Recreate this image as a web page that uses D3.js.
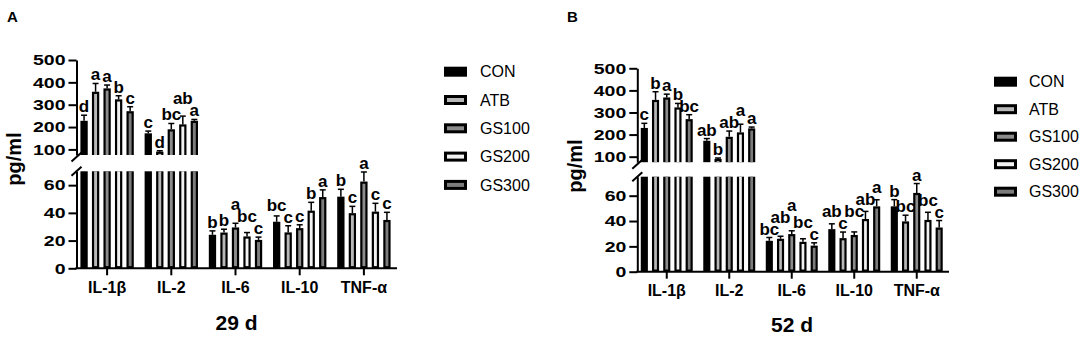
<!DOCTYPE html>
<html><head><meta charset="utf-8">
<script src="https://cdn.jsdelivr.net/npm/d3@7"></script>
<style>body{margin:0;background:#fff} svg{display:block}</style>
</head><body><svg id="c" width="1084" height="337"></svg>
<script>
// ---------- data ----------
const cytokines = ["IL-1β", "IL-2", "IL-6", "IL-10", "TNF-α"];
const groups = ["CON", "ATB", "GS100", "GS200", "GS300"];
const groupFills = ["#000000", "#b8b8b8", "#8c8c8c", "#f2f2f2", "#7c7c7c"];
const upperTicks = [100, 200, 300, 400, 500];
const lowerTicks = [0, 20, 40, 60];

// rows = groups (CON, ATB, GS100, GS200, GS300), columns = cytokines
const mean29 = [
  [228, 172, 24.2, 33.6, 51.7],
  [358, 90, 25.8, 25.9, 39.8],
  [373, 190, 29.5, 29.0, 62.6],
  [324, 212, 23.0, 41.6, 40.9],
  [271, 228, 20.5, 51.4, 34.9]
];
const err29 = [
  [25, 10, 2.8, 4.2, 5.3],
  [37, 4, 2.4, 4.8, 4.9],
  [15, 26, 3.0, 2.4, 6.9],
  [16, 37, 2.8, 6.0, 6.0],
  [20, 6, 2.0, 5.2, 5.5]
];
const letters29 = [
  ["d", "c", "b", "bc", "b"],
  ["a", "d", "b", "c", "c"],
  ["a", "bc", "a", "c", "a"],
  ["b", "ab", "bc", "b", "c"],
  ["c", "a", "c", "a", "c"]
];
const mean52 = [
  [230, 172, 24.4, 33.6, 51.6],
  [357, 90, 26.0, 26.5, 39.7],
  [368, 190, 29.7, 29.0, 62.2],
  [323, 210, 23.6, 41.6, 40.9],
  [270, 228, 20.6, 51.6, 34.9]
];
const err52 = [
  [21, 10, 2.6, 4.2, 5.3],
  [37, 4, 2.0, 4.8, 4.9],
  [15, 26, 2.6, 2.4, 7.4],
  [18, 37, 2.4, 6.0, 6.0],
  [20, 6, 2.2, 5.2, 5.5]
];
const letters52 = [
  ["c", "ab", "bc", "ab", "b"],
  ["b", "b", "ab", "c", "bc"],
  ["a", "ab", "a", "bc", "a"],
  ["b", "a", "bc", "ab", "bc"],
  ["bc", "a", "c", "a", "c"]
];

// ---------- drawing ----------
const FONT = "'Liberation Sans', Arial, Helvetica, sans-serif";
const svg = d3.select("#c");

function panel(cfg) {
  const g = svg.append("g");
  const x0 = d3.scaleBand().domain(cytokines).range(cfg.xRange).paddingInner(0).paddingOuter(0);
  const x1 = d3.scaleBand().domain(groups).range([0, x0.bandwidth()]).paddingInner(0.365).paddingOuter(0.47);
  const yU = d3.scaleLinear().domain(cfg.upperDomain).range(cfg.upperRange);
  const yL = d3.scaleLinear().domain(cfg.lowerDomain).range(cfg.lowerRange);
  const upMin = cfg.upperDomain[0], lowMax = cfg.lowerDomain[1];
  const b = 2.2;
  const w = x1.bandwidth();

  cytokines.forEach((cy, ci) => {
    const labels = [];
    groups.forEach((grp, gi) => {
      const v = cfg.mean[gi][ci], e = cfg.err[gi][ci];
      const bx = x0(cy) + x1(grp);
      const segs = [];
      if (v > upMin) segs.push({ top: yU(v), bot: yU(upMin), closedTop: true, closedBot: false });
      segs.push({ top: yL(Math.min(v, lowMax)), bot: yL(0), closedTop: v <= lowMax, closedBot: true });
      segs.forEach(s => {
        g.append("rect").attr("x", bx).attr("y", s.top).attr("width", w).attr("height", s.bot - s.top).attr("fill", "#000");
        if (gi > 0) {
          const it = s.top + (s.closedTop ? b : 0);
          const ib = s.bot - (s.closedBot ? b : 0);
          g.append("rect").attr("x", bx + b).attr("y", it).attr("width", w - 2 * b).attr("height", Math.max(0, ib - it)).attr("fill", groupFills[gi]);
        }
      });
      const ys = v > upMin ? yU : yL;
      const cx = bx + w / 2;
      const y1 = ys(v), y2 = ys(v + e);
      g.append("line").attr("x1", cx).attr("x2", cx).attr("y1", y1).attr("y2", y2).attr("stroke", "#000").attr("stroke-width", 1.5);
      g.append("line").attr("x1", cx - 3).attr("x2", cx + 3).attr("y1", y2).attr("y2", y2).attr("stroke", "#000").attr("stroke-width", 1.5);
      const t = g.append("text").attr("x", cx).attr("y", y2 - 3).attr("text-anchor", "middle")
        .attr("font-family", FONT).attr("font-weight", "bold").attr("font-size", 17)
        .text(cfg.letters[gi][ci]);
      labels.push({ t, cx, y: y2 - 3, w: t.node().getComputedTextLength() });
    });
    // place lowest labels first; taller labels are lifted above any label they collide with
    labels.sort((a, c) => c.y - a.y);
    const placed = [];
    labels.forEach(L => {
      let moved = true;
      while (moved) {
        moved = false;
        for (const P of placed) {
          const hOver = Math.min(L.cx + L.w / 2, P.cx + P.w / 2) - Math.max(L.cx - L.w / 2, P.cx - P.w / 2);
          const vOver = Math.min(L.y, P.y) - Math.max(L.y - 12, P.y - 12);
          if (hOver > 1.5 && vOver > 0) { L.y = P.y - 12; moved = true; }
        }
      }
      L.t.attr("y", L.y);
      placed.push(L);
    });
  });

  // y axes
  function styleY(sel) {
    sel.select(".domain").attr("stroke-width", 2);
    sel.selectAll(".tick line").attr("stroke-width", 2);
    sel.selectAll(".tick text").attr("font-family", FONT).attr("font-weight", "bold").attr("font-size", 15)
      .attr("fill", "#000")
      .attr("x", null).attr("transform", "translate(-11,0) scale(1.3,1)");
  }
  const axU = g.append("g").attr("transform", `translate(${cfg.axisX},0)`)
    .call(d3.axisLeft(yU).tickValues(upperTicks).tickSize(8).tickSizeOuter(0));
  styleY(axU);
  const axL = g.append("g").attr("transform", `translate(${cfg.axisX},0)`)
    .call(d3.axisLeft(yL).tickValues(lowerTicks).tickSize(8).tickSizeOuter(0));
  styleY(axL);
  // break marks
  [cfg.upperRange[0] + 2, cfg.lowerRange[1]].forEach(yy => {
    g.append("line").attr("x1", cfg.axisX - 5).attr("y1", yy + 4.5).attr("x2", cfg.axisX + 5).attr("y2", yy - 4.5)
      .attr("stroke", "#000").attr("stroke-width", 2);
  });

  // x axis
  const axX = g.append("g").attr("transform", `translate(0,${yL(0)})`)
    .call(d3.axisBottom(x0).tickSize(7).tickSizeOuter(0).tickPadding(6));
  axX.select(".domain").attr("stroke-width", 2).attr("d", `M${cfg.axisX - 1},0H${cfg.xRange[1] + 1}`);
  axX.selectAll(".tick line").attr("stroke-width", 2);
  axX.selectAll(".tick text").attr("font-family", FONT).attr("font-weight", "bold").attr("font-size", 16).attr("fill", "#000");

  // y label
  g.append("text").attr("transform", `translate(${cfg.ylabX},${cfg.ylabY}) rotate(-90)`)
    .attr("text-anchor", "middle").attr("font-family", FONT).attr("font-weight", "bold").attr("font-size", 20)
    .text("pg/ml");
  // panel letter
  g.append("text").attr("x", cfg.tagX).attr("y", cfg.tagY).attr("font-family", FONT).attr("font-weight", "bold")
    .attr("font-size", 15).text(cfg.tag);
  // day label
  g.append("text").attr("x", cfg.dayX).attr("y", cfg.dayY).attr("text-anchor", "middle")
    .attr("font-family", FONT).attr("font-weight", "bold").attr("font-size", 21).text(cfg.day);

  // legend
  groups.forEach((grp, gi) => {
    const ly = cfg.legY + gi * cfg.legDy;
    g.append("rect").attr("x", cfg.legX).attr("y", ly - 5).attr("width", 23).attr("height", 10).attr("fill", "#000");
    if (gi > 0) g.append("rect").attr("x", cfg.legX + 3).attr("y", ly - 2).attr("width", 17).attr("height", 4).attr("fill", groupFills[gi]);
    g.append("text").attr("x", cfg.legTextX).attr("y", ly).attr("dy", "0.35em")
      .attr("font-family", FONT).attr("font-size", 16).text(grp);
  });
}

panel({
  mean: mean29, err: err29, letters: letters29,
  axisX: 76.5, xRange: [75, 396],
  upperDomain: [75, 500], upperRange: [155, 60],
  lowerDomain: [0, 70], lowerRange: [268.3, 171.3],
  ylabX: 21, ylabY: 159, tag: "A", tagX: 7, tagY: 22, day: "29 d", dayX: 236.5, dayY: 330,
  legX: 444, legY: 71.7, legDy: 28.3, legTextX: 480
});
panel({
  mean: mean52, err: err52, letters: letters52,
  axisX: 637.3, xRange: [635.5, 948],
  upperDomain: [75, 500], upperRange: [162.2, 68.3],
  lowerDomain: [0, 75], lowerRange: [271.7, 176.7],
  ylabX: 582, ylabY: 166, tag: "B", tagX: 567, tagY: 22, day: "52 d", dayX: 792, dayY: 332,
  legX: 994, legY: 81.7, legDy: 27.5, legTextX: 1029
});
</script></body></html>
